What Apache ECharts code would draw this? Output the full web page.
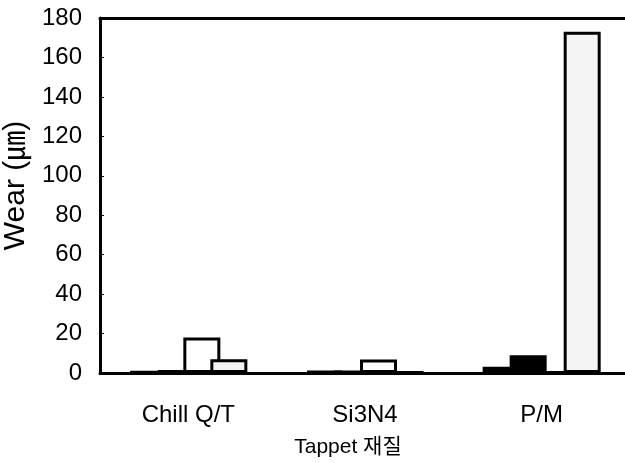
<!DOCTYPE html>
<html><head><meta charset="utf-8">
<script src="https://cdn.jsdelivr.net/npm/echarts@6/dist/echarts.min.js"></script>
<style>html,body{margin:0;padding:0;background:#fff}#c{width:625px;height:463px}</style>
</head><body><div id="c"></div>
<script>
const categories = ['Chill Q/T', 'Si3N4', 'P/M'];
const series1 = [0.8, 1.0, 3.2];
const series2 = [1.5, 1.0, 9.0];
const series3 = [18, 6.8, 0.4];
const series4 = [7.0, 0.5, 173];
const yTicks = { min: 0, max: 180, interval: 20 };
const xTitle = 'Tappet 재질';
const yTitle = 'Wear (㎛)';

const FONT = '"Liberation Sans", Arial, "Noto Sans CJK KR", sans-serif';
const chart = echarts.init(document.getElementById('c'), null, { renderer: 'canvas' });
const fills = ['#000', '#000', '#fff', '#f4f4f4'];
const all = [series1, series2, series3, series4];
chart.setOption({
  animation: false,
  backgroundColor: '#fff',
  grid: { left: 100, right: -5, top: 18, bottom: 90, outerBoundsMode: 'none', containLabel: false },
  xAxis: [{
    type: 'category', data: categories, position: 'bottom',
    axisLine: { lineStyle: { color: '#000', width: 3 } },
    axisTick: { show: false },
    axisLabel: { color: '#000', fontSize: 24, fontFamily: FONT, margin: 30 },
    name: xTitle, nameLocation: 'middle', nameGap: 64,
    nameTextStyle: { color: '#000', fontSize: 21, fontFamily: FONT, padding: [0, 34, 0, 0] }
  }, {
    type: 'category', data: categories, position: 'top',
    axisLine: { lineStyle: { color: '#000', width: 3 } },
    axisTick: { show: false }, axisLabel: { show: false }
  }],
  yAxis: {
    type: 'value', min: yTicks.min, max: yTicks.max, interval: yTicks.interval,
    axisLine: { show: true, lineStyle: { color: '#000', width: 3 } },
    axisTick: { show: true, inside: true, length: 4, lineStyle: { color: '#000', width: 1 } },
    splitLine: { show: false },
    axisLabel: { color: '#000', fontSize: 24, fontFamily: FONT, margin: 18 },
    name: yTitle, nameLocation: 'middle', nameGap: 50,
    nameTextStyle: { color: '#000', fontSize: 30, fontFamily: FONT, padding: [0, 0, 0, 20] }
  },
  series: all.map((d, i) => ({
    type: 'bar', data: d, barWidth: 37, barGap: '-27%',
    itemStyle: { color: fills[i], borderColor: '#000', borderWidth: 3 }
  }))
});
</script></body></html>
